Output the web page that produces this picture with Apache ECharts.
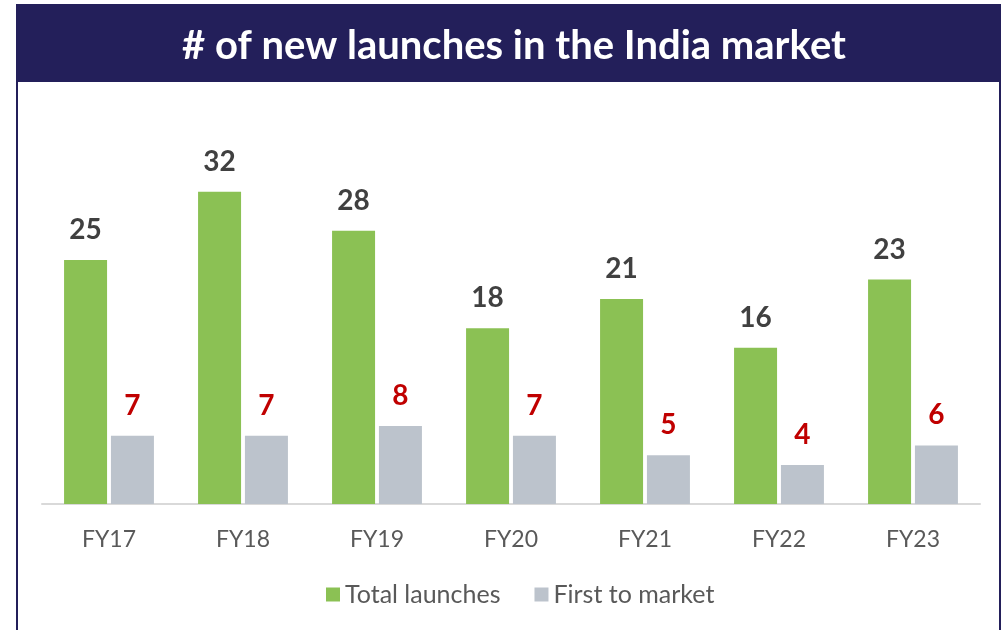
<!DOCTYPE html>
<html>
<head>
<meta charset="utf-8">
<script src="https://cdn.jsdelivr.net/npm/echarts@6/dist/echarts.min.js"></script>
<style>
  html, body { margin: 0; padding: 0; background: #ffffff; }
  #chart { width: 1003px; height: 630px; }
</style>
</head>
<body>
<div id="chart"></div>
<script>
// Fiscal years on the category axis
const years = ['FY17', 'FY18', 'FY19', 'FY20', 'FY21', 'FY22', 'FY23'];
// Launch counts per fiscal year
const totalLaunches = [25, 32, 28, 18, 21, 16, 23];
const firstToMarket = [7, 7, 8, 7, 5, 4, 6];

const chart = echarts.init(document.getElementById('chart'), null, { renderer: 'canvas' });

const NAVY = '#231F5A';

chart.setOption({
  backgroundColor: '#ffffff',
  animation: false,
  title: {
    text: '# of new launches in the India market',
    left: 509,
    textAlign: 'center',
    top: 21,
    textStyle: {
      color: '#ffffff',
      fontFamily: 'Lato',
      fontWeight: 'bold',
      fontSize: 40
    }
  },
  graphic: [
    // panel outline
    {
      type: 'rect', z: 0, silent: true,
      shape: { x: 17, y: 5, width: 983, height: 640 },
      style: { fill: '#ffffff', stroke: NAVY, lineWidth: 2 }
    },
    // heading band
    {
      type: 'rect', z: 1, silent: true,
      shape: { x: 17, y: 5, width: 983, height: 77 },
      style: { fill: NAVY }
    }
  ],
  legend: {
    bottom: 18,
    left: 321,
    itemWidth: 14,
    itemHeight: 14,
    itemGap: 34,
    icon: 'rect',
    textStyle: { color: '#595959', fontFamily: 'Lato', fontSize: 25 },
    data: ['Total launches', 'First to market']
  },
  grid: { left: 42, right: 23, top: 113.6, bottom: 126 },
  xAxis: {
    type: 'category',
    data: years,
    axisLine: { lineStyle: { color: '#D9D9D9', width: 2 } },
    axisTick: { show: false },
    axisLabel: {
      color: '#595959',
      fontFamily: 'Lato',
      fontSize: 23,
      margin: 24
    }
  },
  yAxis: {
    type: 'value',
    min: 0,
    max: 40,
    show: false,
    splitLine: { show: false }
  },
  series: [
    {
      name: 'Total launches',
      type: 'bar',
      data: totalLaunches,
      barWidth: 43,
      barGap: '9%',
      itemStyle: { color: '#8BC154' },
      label: {
        show: true,
        position: 'top',
        distance: 16,
        color: '#404040',
        fontFamily: 'Lato',
        fontWeight: 'bold',
        fontSize: 28
      }
    },
    {
      name: 'First to market',
      type: 'bar',
      data: firstToMarket,
      barWidth: 43,
      itemStyle: { color: '#BCC3CC' },
      label: {
        show: true,
        position: 'top',
        distance: 16,
        color: '#C00000',
        fontFamily: 'Lato',
        fontWeight: 'bold',
        fontSize: 28
      }
    }
  ]
});
</script>
</body>
</html>
